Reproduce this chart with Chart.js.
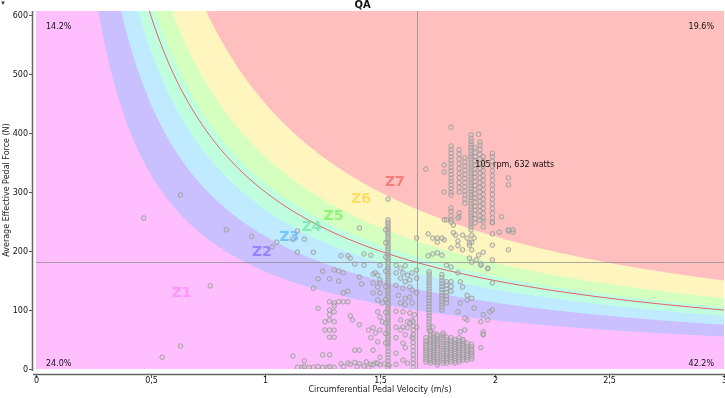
<!DOCTYPE html>
<html><head><meta charset="utf-8">
<script src="https://cdn.jsdelivr.net/npm/chart.js@4/dist/chart.umd.min.js"></script>
<style>html,body{margin:0;padding:0;background:#fff;}#wrap{width:725px;height:398px;position:relative;}</style>
</head><body><div id="wrap"><canvas id="c" width="725" height="398"></canvas></div>
<script>
const chartTitle = 'QA';
const xTitle = 'Circumferential Pedal Velocity (m/s)';
const yTitle = 'Average Effective Pedal Force (N)';
const xTicks = [0, 0.5, 1, 1.5, 2, 2.5, 3];
const yTicks = [0, 100, 200, 300, 400, 500, 600];
const zoneNames = ['Z1', 'Z2', 'Z3', 'Z4', 'Z5', 'Z6', 'Z7'];
const zoneLowWatts = [0, 165, 225, 270, 315, 360, 450];
const zoneLabelV = [0.635, 0.985, 1.105, 1.202, 1.297, 1.417, 1.565];
const zoneLabelF = [129, 197, 223, 241, 259, 287, 316];
const cpWatts = 300;
const crossV = 1.66;
const quadrantPct = ['14.2%', '19.6%', '24.0%', '42.2%'];
const hoverCadence = 105, hoverWatts = 632, crankLength = 0.175;

const leftScatter = [[0.47,256],[0.63,295],[0.76,141],[0.55,20],[0.63,39],[0.83,236],[0.94,225],[1.03,207],[1.05,215],
[1.12,220],[1.14,234],[1.17,220],[1.14,198],[1.21,198],[1.25,166],[1.23,153],[1.28,153],[1.30,168],[1.32,166],[1.34,163],
[1.33,192],[1.36,192],[1.32,149],[1.21,137],[1.34,129],[1.36,132],[1.37,188],[1.43,195],[1.46,193],[1.39,178],[1.43,176],
[1.41,156],[1.47,161],[1.48,163],[1.50,176],[1.50,146],[1.47,146],[1.42,144],[1.47,129],[1.28,114],[1.30,112],[1.32,114],
[1.34,114],[1.36,114],[1.23,103],[1.28,100],[1.30,107],[1.30,97],[1.28,92],[1.26,80],[1.28,83],[1.30,80],[1.37,90],[1.41,75],
[1.38,83],[1.45,66],[1.47,70],[1.26,66],[1.28,66],[1.30,66],[1.28,54],[1.30,54],[1.39,32],[1.41,32],[1.25,24],[1.28,24],
[1.12,22],[1.17,14],[1.41,239]];
const bottomRow = [[1.14,3],[1.16,3],[1.17,4],[1.19,3],[1.21,3],[1.23,4],[1.25,3],[1.27,3],[1.28,4],[1.30,3],[1.33,9],[1.36,10],
[1.37,8],[1.39,11],[1.41,9],[1.44,12],[1.46,8],[1.48,10],[1.50,7],[1.52,9],[1.54,6],[1.57,8],[1.34,4],[1.40,4],[1.43,5],[1.45,3]];
const nearColumn = [[1.46,53],[1.48,61],[1.50,66],[1.49,46],[1.47,32],[1.50,20],[1.49,10],[1.47,7],[1.51,80],[1.50,88],[1.49,97],
[1.51,112],[1.49,117],[1.50,129],[1.49,139],[1.50,151],[1.49,159]];
const centralColumn = [[1.535,3],[1.535,8],[1.535,14],[1.535,19],[1.535,25],[1.535,30],[1.535,36],[1.535,41],[1.535,45],[1.535,49],
[1.535,53],[1.535,57],[1.535,61],[1.535,65],[1.535,69],[1.535,73],[1.535,77],[1.535,81],[1.535,85],[1.535,89],[1.535,93],
[1.535,97],[1.535,101],[1.535,105],[1.535,109],[1.535,113],[1.535,117],[1.535,121],[1.535,125],[1.535,129],[1.535,133],
[1.535,137],[1.535,141],[1.535,145],[1.535,149],[1.535,153],[1.535,157],[1.535,161],[1.535,165],[1.535,169],[1.535,173],
[1.535,177],[1.535,181],[1.535,185],[1.535,189],[1.535,193],[1.535,197],[1.535,201],[1.535,205],[1.535,209],[1.535,213],
[1.535,217],[1.535,221],[1.535,225],[1.535,229],[1.535,233],[1.535,237],[1.535,241],[1.535,245],[1.535,249],[1.535,253],
[1.535,288],[1.525,44],[1.525,60],[1.525,78],[1.525,96],[1.525,118],[1.525,140],[1.525,166],[1.525,190],[1.525,214],[1.525,236]];
const midScatter = [[1.57,176],[1.59,171],[1.61,175],[1.57,163],[1.60,163],[1.62,159],[1.64,163],[1.66,168],[1.59,154],[1.61,148],
[1.63,151],[1.66,154],[1.57,142],[1.60,137],[1.63,139],[1.64,134],[1.66,129],[1.58,125],[1.61,120],[1.63,122],[1.59,112],
[1.61,109],[1.64,112],[1.57,98],[1.60,97],[1.63,95],[1.65,92],[1.59,83],[1.62,80],[1.64,83],[1.60,71],[1.62,70],[1.66,71],
[1.61,58],[1.64,54],[1.60,44],[1.57,53],[1.61,36],[1.57,27],[1.60,15],[1.62,10],[1.63,78],[1.59,66],[1.57,71],
[1.645,3],[1.645,10],[1.645,17],[1.645,24],[1.645,31],[1.645,38],[1.645,45],[1.645,52],[1.645,59],[1.645,66],[1.645,73],[1.645,80]];
const midColumns = [[1.714,66],[1.714,71],[1.714,76],[1.714,81],[1.714,86],[1.714,91],[1.714,96],[1.714,101],[1.714,106],[1.714,111],
[1.714,116],[1.714,121],[1.714,126],[1.714,131],[1.714,136],[1.714,141],[1.714,146],[1.714,151],[1.714,156],[1.714,161],[1.714,165],
[1.77,100],[1.77,105],[1.77,110],[1.77,115],[1.77,120],[1.77,125],[1.77,130],[1.77,135],[1.77,140],[1.77,145],[1.77,150],[1.77,155],[1.77,160],
[1.79,112],[1.79,118],[1.79,124],[1.79,130],[1.79,136],[1.79,142],[1.79,148],[1.81,132],[1.81,140],[1.81,148]];
const transitionScatter = [[1.75,215],[1.75,197],[1.73,195],[1.71,192],[1.77,193],[1.79,176],[1.81,173],[1.84,163],[1.85,148],
[1.86,139],[1.88,125],[1.90,120],[1.84,97],[1.91,103],[1.88,83],[1.89,188],[1.90,181],[1.92,185],[1.94,176],[1.97,171],[1.99,185],
[1.99,100],[1.97,83],[1.95,63],[1.84,217],[1.86,202],[1.89,210],[1.90,215],[2.06,202],[1.94,80],[1.95,58],[1.94,36],[1.98,97],
[1.87,86],[1.85,112],[1.88,117],[1.95,251],[1.99,249],[1.95,241],[1.99,229],[2.06,234],[2.08,232],[1.95,198],[1.97,170],[1.94,178],
[1.99,146],[1.95,92],[1.95,59],[1.72,63],[1.73,71],[1.85,63],[1.87,66]];
const upperCluster = [[1.81,295],[1.81,300],[1.81,306],[1.81,312],[1.81,318],[1.81,324],[1.81,330],[1.81,336],[1.81,342],[1.81,348],
[1.81,354],[1.81,360],[1.81,366],[1.81,372],[1.81,378],[1.81,253],[1.81,260],[1.81,267],[1.81,273],
[1.845,300],[1.845,308],[1.845,316],[1.845,324],[1.845,332],[1.845,340],[1.845,348],[1.845,356],[1.845,364],[1.845,372],[1.845,258],[1.845,265],
[1.87,281],[1.87,288],[1.87,295],[1.87,302],[1.87,309],[1.87,316],[1.87,323],[1.87,330],[1.87,337],[1.87,344],[1.87,351],[1.87,358],
[1.897,236],[1.897,241],[1.897,246],[1.897,251],[1.897,256],[1.897,261],[1.897,266],[1.897,271],[1.897,276],[1.897,281],[1.897,286],
[1.897,291],[1.897,296],[1.897,301],[1.897,306],[1.897,311],[1.897,316],[1.897,321],[1.897,326],[1.897,331],[1.897,336],[1.897,341],
[1.897,346],[1.897,351],[1.897,356],[1.897,361],[1.897,366],[1.897,371],[1.897,376],[1.897,381],[1.897,386],[1.897,391],[1.897,397],
[1.914,248],[1.914,255],[1.914,262],[1.914,269],[1.914,276],[1.914,283],[1.914,290],[1.914,297],[1.914,304],[1.914,311],[1.914,318],
[1.914,325],[1.914,332],[1.914,339],[1.914,346],[1.914,353],[1.914,360],[1.914,367],[1.914,375],
[1.936,252],[1.936,260],[1.936,268],[1.936,276],[1.936,284],[1.936,292],[1.936,300],[1.936,308],[1.936,316],[1.936,324],[1.936,332],
[1.936,340],[1.936,348],[1.936,356],[1.936,364],[1.936,372],[1.936,380],[1.936,385],
[1.95,256],[1.95,264],[1.95,272],[1.95,280],[1.95,288],[1.95,296],[1.95,304],[1.95,312],[1.95,320],[1.95,328],[1.95,336],[1.95,344],[1.95,352],[1.95,360],
[1.99,248],[1.99,256],[1.99,264],[1.99,272],[1.99,280],[1.99,288],[1.99,296],[1.99,304],[1.99,312],[1.99,320],[1.99,328],[1.99,336],
[1.99,344],[1.99,352],[1.99,360],[1.99,366]];
const upperScatter = [[1.81,410],[1.93,398],[1.78,346],[1.78,300],[2.06,324],[2.06,312],[2.06,236],[2.08,236],[1.78,253],[1.75,222],
[1.78,219],[1.82,231],[1.86,227],[1.91,222],[1.81,205],[1.84,209],[1.89,214],[1.90,202],[2.02,232],[2.03,258],[1.99,210],[1.93,193],
[1.70,339],[1.78,334],[1.79,253],[1.81,249],[1.82,244],[1.84,256],[1.71,229],[1.73,222],[1.77,222],[1.83,227],[1.88,222],
[1.90,227],[1.66,222]];
const lowCluster = [
[1.70,12],[1.70,16],[1.70,20],[1.70,24],[1.70,28],[1.70,32],[1.70,36],[1.70,40],[1.70,44],[1.70,48],[1.70,53],
[1.72,10],[1.72,14],[1.72,18],[1.72,22],[1.72,26],[1.72,30],[1.72,34],[1.72,38],[1.72,42],[1.72,46],[1.72,50],[1.72,54],[1.72,58],
[1.735,12],[1.735,16],[1.735,20],[1.735,24],[1.735,28],[1.735,32],[1.735,36],[1.735,40],[1.735,44],[1.735,48],[1.735,52],[1.735,56],[1.735,60],
[1.75,7],[1.75,11],[1.75,15],[1.75,19],[1.75,23],[1.75,27],[1.75,31],[1.75,35],[1.75,39],[1.75,43],[1.75,47],[1.75,51],[1.75,55],[1.75,58],
[1.775,10],[1.775,14],[1.775,18],[1.775,22],[1.775,26],[1.775,30],[1.775,34],[1.775,38],[1.775,42],[1.775,46],[1.775,50],[1.775,54],[1.775,58],[1.775,61],
[1.79,10],[1.79,14],[1.79,18],[1.79,22],[1.79,26],[1.79,30],[1.79,34],[1.79,38],[1.79,42],[1.79,46],[1.79,50],[1.79,54],
[1.81,12],[1.81,16],[1.81,20],[1.81,24],[1.81,28],[1.81,32],[1.81,36],[1.81,40],[1.81,44],[1.81,48],[1.81,53],
[1.827,10],[1.827,14],[1.827,18],[1.827,22],[1.827,26],[1.827,30],[1.827,34],[1.827,38],[1.827,42],[1.827,46],[1.827,50],
[1.845,12],[1.845,16],[1.845,20],[1.845,24],[1.845,28],[1.845,32],[1.845,36],[1.845,40],[1.845,44],[1.845,48],[1.845,53],
[1.862,15],[1.862,19],[1.862,23],[1.862,27],[1.862,31],[1.862,35],[1.862,39],[1.862,43],[1.862,47],[1.862,50],
[1.88,15],[1.88,19],[1.88,23],[1.88,27],[1.88,31],[1.88,35],[1.88,39],[1.88,44],
[1.90,17],[1.90,21],[1.90,25],[1.90,29],[1.90,33],[1.90,38],[1.90,42]];

const bandColors = ['#ffbfff', '#cabfff', '#bfeaff', '#bfffdf', '#d5ffbf', '#fff5bf', '#ffbfbf'];
const labelColors = ['rgba(255,120,255,0.6)', 'rgba(110,95,255,0.6)', 'rgba(80,180,255,0.7)', 'rgba(110,230,165,0.75)',
  'rgba(110,240,90,0.7)', 'rgba(255,210,60,0.7)', 'rgba(235,100,90,0.7)'];
const FONT = '"DejaVu Sans", sans-serif';

const allPoints = [].concat(leftScatter, bottomRow, nearColumn, centralColumn, midScatter, midColumns,
  transitionScatter, upperCluster, upperScatter, lowCluster).map(p => ({x: p[0], y: p[1]}));

function curvePixels(chart, watts) {
  const {chartArea: a, scales: {x, y}} = chart;
  const pts = [];
  for (let px = a.left; px <= a.right + 0.5; px += 1) {
    const v = x.getValueForPixel(px);
    const f = v > 0 ? watts / v : 1e5;
    const py = y.getPixelForValue(Math.min(f, 5000));
    pts.push([px, Math.max(py, a.top - 5)]);
  }
  return pts;
}

const qaPlugin = {
  id: 'qa',
  beforeDatasetsDraw(chart) {
    const {ctx, chartArea: a, scales: {x, y}} = chart;
    ctx.save();
    ctx.beginPath(); ctx.rect(a.left, a.top, a.right - a.left, a.bottom - a.top); ctx.clip();
    ctx.fillStyle = bandColors[6];
    ctx.fillRect(a.left, a.top, a.right - a.left, a.bottom - a.top);
    for (let i = zoneLowWatts.length - 1; i >= 1; i--) {
      const pts = curvePixels(chart, zoneLowWatts[i]);
      ctx.beginPath(); ctx.moveTo(a.left, a.bottom);
      pts.forEach(p => ctx.lineTo(p[0], p[1]));
      ctx.lineTo(a.right, a.bottom); ctx.closePath();
      ctx.fillStyle = bandColors[i - 1]; ctx.fill();
    }
    ctx.beginPath();
    curvePixels(chart, cpWatts).forEach((p, k) => k ? ctx.lineTo(p[0], p[1]) : ctx.moveTo(p[0], p[1]));
    ctx.strokeStyle = '#e6606c'; ctx.lineWidth = 1; ctx.stroke();
    const cx = Math.round(x.getPixelForValue(crossV)) + 0.5;
    const cy = Math.round(y.getPixelForValue(cpWatts / crossV)) + 0.5;
    ctx.strokeStyle = 'rgba(140,140,140,0.75)';
    ctx.beginPath(); ctx.moveTo(cx, a.top); ctx.lineTo(cx, a.bottom); ctx.moveTo(a.left, cy); ctx.lineTo(a.right, cy); ctx.stroke();
    ctx.font = 'bold 14px ' + FONT; ctx.textAlign = 'center'; ctx.textBaseline = 'middle';
    zoneNames.forEach((n, i) => {
      ctx.fillStyle = labelColors[i];
      ctx.fillText(n, x.getPixelForValue(zoneLabelV[i]), y.getPixelForValue(zoneLabelF[i]));
    });
    ctx.restore();
  },
  afterDatasetsDraw(chart) {
    const {ctx, chartArea: a, scales: {x, y}} = chart;
    ctx.save();
    ctx.font = '8px ' + FONT; ctx.fillStyle = '#111'; ctx.textBaseline = 'middle';
    ctx.textAlign = 'left';
    ctx.fillText(quadrantPct[0], a.left + 10, a.top + 16);
    ctx.fillText(quadrantPct[2], a.left + 10, a.bottom - 5);
    ctx.textAlign = 'right';
    ctx.fillText(quadrantPct[1], a.right - 10, a.top + 16);
    ctx.fillText(quadrantPct[3], a.right - 10, a.bottom - 5);
    const hv = hoverCadence * 2 * Math.PI * crankLength / 60;
    const hx = x.getPixelForValue(hv), hy = y.getPixelForValue(hoverWatts / hv);
    ctx.textAlign = 'left';
    ctx.fillText(hoverCadence + ' rpm, ' + hoverWatts + ' watts', hx - 2, hy - 10);
    ctx.restore();
  },
  afterDraw(chart) {
    const {ctx, chartArea: a, scales: {x, y}} = chart;
    ctx.save();
    ctx.fillStyle = '#111';
    ctx.font = 'bold 10px ' + FONT; ctx.textAlign = 'center'; ctx.textBaseline = 'middle';
    ctx.fillText(chartTitle, chart.width / 2, 5);
    ctx.font = '8px ' + FONT;
    ctx.fillStyle = '#222';
    ctx.fillText(xTitle, (a.left + a.right) / 2, 390);
    ctx.save(); ctx.translate(7, (a.top + a.bottom) / 2); ctx.rotate(-Math.PI / 2);
    ctx.fillText(yTitle, 0, 0); ctx.restore();
    ctx.font = '7px ' + FONT; ctx.fillStyle = '#333'; ctx.fillText('\u25BE', 3, 3);
    ctx.strokeStyle = '#666'; ctx.lineWidth = 1.5;
    ctx.beginPath(); ctx.moveTo(32.5, a.top); ctx.lineTo(32.5, a.bottom + 2); ctx.stroke();
    ctx.beginPath(); ctx.moveTo(33, a.bottom + 5.5); ctx.lineTo(chart.width, a.bottom + 5.5); ctx.stroke();
    ctx.lineWidth = 1; ctx.strokeStyle = '#555';
    ctx.font = '8px ' + FONT; ctx.fillStyle = '#111';
    ctx.textAlign = 'right'; ctx.textBaseline = 'middle';
    yTicks.forEach(t => {
      const py = Math.round(y.getPixelForValue(t)) + 0.5;
      ctx.beginPath(); ctx.moveTo(29, py); ctx.lineTo(32, py); ctx.stroke();
      ctx.fillText(String(t), 28, py);
    });
    ctx.textAlign = 'center';
    xTicks.forEach(t => {
      const px = Math.round(x.getPixelForValue(t)) + 0.5;
      ctx.beginPath(); ctx.moveTo(px, a.bottom + 6); ctx.lineTo(px, a.bottom + 9); ctx.stroke();
      ctx.fillText(String(t).replace('.', ','), px, a.bottom + 12);
    });
    ctx.restore();
  }
};

new Chart(document.getElementById('c'), {
  type: 'scatter',
  data: { datasets: [{ data: allPoints, pointRadius: 2.3, pointHoverRadius: 0, borderWidth: 1, borderColor: 'rgba(150,150,150,0.8)', backgroundColor: 'rgba(200,200,200,0.35)' }] },
  options: {
    responsive: false, animation: false, devicePixelRatio: 1,
    layout: { autoPadding: false, padding: { top: 11, right: 1, left: 0, bottom: 0 } },
    plugins: { legend: { display: false }, tooltip: { enabled: false }, title: { display: false } },
    scales: {
      x: {
        type: 'linear', min: 0, max: 3,
        grid: { display: false, drawTicks: false }, border: { display: false },
        afterBuildTicks: s => { s.ticks = xTicks.map(v => ({ value: v })); },
        afterFit: s => { s.height = 29; s.paddingLeft = 0; s.paddingRight = 0; },
        ticks: { display: false }
      },
      y: {
        type: 'linear', min: 0, max: 607,
        grid: { display: false, drawTicks: false }, border: { display: false },
        afterBuildTicks: s => { s.ticks = yTicks.map(v => ({ value: v })); },
        afterFit: s => { s.width = 36; s.paddingTop = 0; s.paddingBottom = 0; },
        ticks: { display: false }
      }
    }
  },
  plugins: [qaPlugin]
});
</script>
</body></html>
